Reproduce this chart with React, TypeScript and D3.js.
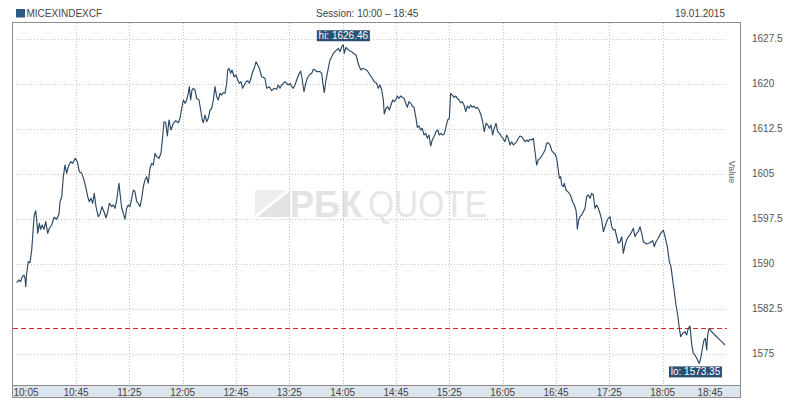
import React from "react";
import * as d3 from "d3";

// minutes after 10:00
const times = [
  0.5,2.25,3.5,4.7,6,6.75,7.3,8,9.2,10.5,11.8,13,13.7,14.8,15.5,16.3,17.5,18.5,19.7,21,22.3,23.8,25,26.8,28.5,30.5,32.25,33,34.3,35.5,36.75,38,39.2,41,42.5,44.5,46,47.5,49.3,51,52.5,53.8,55,56.25,57.5,58.7,60,61.7,63,64.5,66,67.5,68.8,70,71.8,73,74.25,75.5,77.25,78,79.3,80.5,81.75,83,84.2,85.5,86.8,88,89.25,90.5,91.7,93,94.3,95.5,96.75,98,99.2,100.5,101.8,103,104.25,105.5,107.25,108.75,
  110,111,112.3,113.5,114.75,116.25,118,119.8,121.7,123,124.3,125.5,126.75,128,129.2,130,131,132,133,134.25,135.5,137.25,138.5,139.7,140.5,141.75,143,144.2,145.5,146.8,148,149.25,150.5,151.7,153,154.25,155.5,156.75,158,158.8,159.75,161,162,163.5,165,166.3,167.5,168.75,170,171.2,172.5,173.8,175,176.25,177.5,178.7,180,181.3,182.5,
  184.3,186.75,188,190,191.8,193.5,195.5,196.7,198,199.3,200.5,201.75,203,204.2,205.5,206.8,208,209.25,210.5,212.25,213.5,214.7,216,217.3,218.5,220,221.8,223,224.25,225.5,228,229.3,230,231.2,232.5,234.2,235.5,236.8,238,239.25,240.5,241.7,243,244.3,245.5,246.2,247.5,248.8,250,251.8,253,255,256.3,257.5,258.75,260,261.75,263.5,265.5,267.2,268.7,270.5,271.7,273,274.3,275.5,276.2,277.5,278.8,280,281.25,282.5,283.7,285,286,287.25,288.5,289.7,291,292.3,293.5,294.75,296,297.2,298.5,299.8,301,302.25,303.5,304.7,306,307.3,308.5,309.75,311,312.2,313.5,315,316.3,317.5,318.75,320,321.2,322.5,323.8,325,326,327.2,328.5,329.8,331,332.25,333.5,334.7,336,337.3,338.5,339.75,341,342.2,343.5,344.8,346,347.25,
  348.75,350,351.2,352.5,353.8,355,356.25,357.5,358.7,360,361.3,362.5,364.3,365.5,366.75,368,369.2,370.5,371.8,373,374.25,375.5,376.7,378,379.3,380.5,381.75,383,384.2,385.5,386.8,388,389.25,390.5,391.7,393,394.3,395.5,396.75,398,399.2,400.5,401.8,403,404.25,405.5,406.7,407.5,408.5,409.3,410.5,411.2,412.5,413.8,415,416.25,417.5,418.7,420,420.5,421,422,423,424.3,425.5,426.75,428,429.2,430.5,431.8,433,434.25,435.5,436.7,438,439.3,440.5,441.75,443,444.2,445.5,446.8,448,449.25,450.5,451.7,453,454.3,455.5,456.75,458,459.2,460.5,461.8,463,464.25,465.5,466.7,
  468,469.3,470.5,473,475.5,477.5,478.7,480,481.7,483.5,485.5,486.75,488.5,490,491.25,492.5,493.7,495,496.3,497.5,498.5,500,501.75,503,504.2,505.5,506.8,508,509.25,510.5,512.5,513.75,515,516,517,518,518.75,519.75,521.75,524.25,526.7,529.3,531.75
];

const values = [
  1586.8,1587.25,1586.97,1587.8,1588.08,1587.53,1586.13,1588.37,1590.3,1590.13,1592.25,1596.13,1598.08,1598.8,1597.25,1595.03,1596.7,1595.7,1596.42,1595.7,1596.97,1595.03,1595.87,1596.42,1597.7,1597.37,1598.25,1600.3,1601.13,1604.47,1606.42,1605.03,1606.13,1606.97,1606.7,1607.53,1606.97,1605.3,1605.03,1603.92,1602.53,1601.13,1600.3,1600.87,1600.03,1601.7,1599.47,1597.8,1598.25,1599.47,1598.63,1597.63,1598.63,1600.03,1599.47,1599.75,1599.2,1600.58,1603.37,1601.7,1599.2,1598.37,1597.37,1599.2,1599.75,1599.47,1600.87,1602.25,1601.97,1600.3,1600.03,1599.47,1600.87,1602.8,1603.92,1604.47,1603.37,1605.87,1606.7,1606.42,1608.37,1607.8,1607.53,1608.37,
  1611.13,1613.63,1613.47,1611.25,1613.92,1612.25,1613.37,1613.8,1613.47,1614.2,1615.87,1617.25,1616.7,1617.25,1618.37,1619.47,1617.25,1618.92,1619.2,1618.92,1617.53,1617.25,1615.58,1613.92,1613.47,1614.75,1613.63,1614.2,1615.58,1615.87,1617.25,1619.47,1617.8,1617.25,1618.37,1618.08,1618.47,1618.37,1620.03,1622.25,1622.53,1621.7,1622.25,1621.13,1621.42,1620.58,1620.03,1620.3,1619.2,1619.75,1620.3,1620.47,1620.03,1620.87,1621.97,1622.53,1623.63,1623.08,1622.53,
  1621.13,1620.87,1619.2,1619.47,1618.8,1619.2,1619.03,1619.75,1619.2,1619.75,1620.03,1620.3,1620.03,1619.75,1620.03,1619.47,1619.2,1619.75,1620.58,1621.58,1622.08,1620.58,1618.63,1620.03,1620.87,1621.42,1621.7,1622.37,1622.25,1621.97,1621.97,1621.7,1620.3,1618.47,1620.58,1622.53,1623.92,1624.47,1625.03,1625.3,1625.58,1625.87,1625.3,1626.13,1626.46,1625.03,1626.03,1625.7,1625.47,1625.3,1625.03,1624.75,1623.63,1622.8,1622.25,1622.53,1622.37,1622.13,1621.42,1620.87,1620.3,1620.03,1619.2,1619.75,1618.92,1617.25,1614.92,1615.87,1616.13,1615.58,1616.42,1617.25,1616.97,1617.37,1617.92,1617.53,1617.92,1617.7,1617.53,1616.7,1616.03,1616.97,1616.7,1616.25,1616.03,1614.47,1612.7,1612.92,1612.25,1612.53,1611.42,1611.7,1610.87,1611.42,1609.58,1610.58,1611.13,1611.97,1612.25,1611.42,1611.7,1611.42,1611.58,1612.8,1613.92,1614.2,1618.37,1618.08,1617.7,1617.92,1617.53,1617.25,1616.8,1616.97,1616.42,1615.3,1616.25,1615.87,1616.42,1616.03,1616.25,1615.87,1616.03,1615.58,
  1614.75,1613.63,1611.97,1613.37,1613.08,1612.53,1613.08,1611.42,1612.53,1613.37,1611.97,1611.7,1611.13,1610.7,1610.3,1611.42,1610.87,1609.75,1610.3,1609.75,1610.03,1610.3,1610.87,1611.25,1611.13,1610.7,1610.3,1610.58,1610.3,1610.7,1610.58,1610.87,1608.63,1606.42,1607.25,1607.53,1607.92,1608.37,1608.92,1610.03,1610.13,1609.75,1608.8,1608.47,1608.25,1607.53,1605.58,1604.2,1604.47,1603.08,1602.8,1603.37,1602.25,1601.97,1601.7,1601.13,1600.3,1599.75,1598.92,1597.8,1595.75,1597.25,1597.8,1598.08,1598.63,1599.2,1601.13,1601.42,1600.87,1601.7,1601.42,1599.2,1599.75,1599.2,1598.37,1597.25,1595.3,1596.13,1596.97,1597.53,1597.8,1596.13,1595.58,1595.7,1594.47,1593.37,1593.63,1594.47,1591.7,1593.08,1593.92,1594.47,1594.75,1595.3,1595.87,1594.47,1595.03,1595.3,
  1596.13,1595.03,1593.63,1593.25,1593.47,1593.8,1592.8,1593.63,1594.2,1595.03,1595.58,1594.47,1592.8,1590.3,1589.47,1587.25,1585.3,1583.08,1581.42,1579.2,1577.8,1578.37,1578.63,1578.08,1579.2,1579.58,1576.42,1575.03,1574.75,1574.2,1573.35,1574.47,1576.13,1577.25,1577.53,1575.58,1578.08,1579.2,1578.63,1578.08,1577.53,1576.97,1576.42
];

const xTickLabels = ["10:05","10:45","11:25","12:05","12:45","13:25","14:05","14:45","15:25","16:05","16:45","17:25","18:05","18:45"];
const yTicks = [1575, 1582.5, 1590, 1597.5, 1605, 1612.5, 1620, 1627.5];
const prevClose = 1579.2;
const seriesName = "MICEXINDEXCF";
const sessionText = "Session: 10:00 \u2013 18:45";
const dateText = "19.01.2015";
const axisTitle = "Value";

const FONT = "'Liberation Sans', Arial, Helvetica, sans-serif";

const toMin = (s: string) => {
  const [h, m] = s.split(":").map(Number);
  return (h - 10) * 60 + m;
};

export default function App() {
  const W = 800, H = 401;
  const frame = { l: 12.5, t: 22.5, r: 740.5, b: 397.5 };
  const bandTop = 385.5;

  const x = d3.scaleLinear().domain([0, 525]).range([16, 716]);
  const y = d3.scaleLinear().domain([1575, 1627.5]).range([353.5, 38.5]);

  const data = times.map((t, i) => ({ t, v: values[i] }));
  const line = d3.line<{ t: number; v: number }>().x(d => x(d.t)).y(d => y(d.v));

  const hiIdx = d3.maxIndex(values);
  const loIdx = d3.minIndex(values);
  const hx = x(times[hiIdx]), hy = y(values[hiIdx]);
  const lx = x(times[loIdx]), ly = y(values[loIdx]);
  const boxW = 53, boxH = 11;
  const hiBoxX = Math.min(hx - boxW / 2, 722 - boxW);
  const loBoxX = Math.min(lx - boxW / 2, 722 - boxW);

  const gridX0 = 16, gridX1 = 726;

  return (
    <svg width={W} height={H} style={{ position: "absolute", left: 0, top: 0, background: "#fff" }} fontFamily={FONT}>
      <rect x={0} y={0} width={W} height={H} fill="#fff" />
      {/* header */}
      <rect x={16} y={9} width={9} height={8.5} fill="#2f5b86" />
      <text x={26.5} y={17} fontSize={10} fill="#444">{seriesName}</text>
      <text x={316} y={17} fontSize={10} fill="#444">{sessionText}</text>
      <text x={725} y={17} fontSize={10} fill="#444" textAnchor="end">{dateText}</text>

      {/* watermark */}
      <g>
        <polygon points="255,190 287,190 255,215" fill="#eeeeee" />
        <polygon points="290,191 290,217 257,217" fill="#e3e3e3" />
        <text x={290} y={217} fontSize={36} fontWeight="bold" fill="#e3e3e3">РБК</text>
        <text x={368} y={217} fontSize={36} fill="#e6e6e6" textLength={119} lengthAdjust="spacingAndGlyphs">QUOTE</text>
      </g>

      {/* grid */}
      {yTicks.map(v => (
        <line key={"gy" + v} x1={gridX0} x2={gridX1} y1={Math.round(y(v)) + 0.5} y2={Math.round(y(v)) + 0.5}
          stroke="#c4c4c4" strokeDasharray="1,2" />
      ))}
      {xTickLabels.slice(1, -1).map(s => (
        <line key={"gx" + s} x1={Math.round(x(toMin(s))) + 0.5} x2={Math.round(x(toMin(s))) + 0.5} y1={23} y2={bandTop}
          stroke="#c4c4c4" strokeDasharray="1,2" />
      ))}

      {/* previous close */}
      <line x1={13} x2={727} y1={Math.round(y(prevClose)) + 0.5} y2={Math.round(y(prevClose)) + 0.5}
        stroke="#d42a2a" strokeDasharray="5,3" strokeWidth={1} />

      {/* series */}
      <path d={line(data) || ""} fill="none" stroke="#2b4864" strokeWidth={1.15} strokeLinejoin="round" />

      {/* hi / lo */}
      <rect x={hiBoxX} y={hy - 14.5} width={boxW} height={boxH} fill="#2b5075" />
      <text x={hiBoxX + boxW / 2} y={hy - 5.8} fontSize={10} fill="#fff" textAnchor="middle">{"hi: " + values[hiIdx].toFixed(2)}</text>
      <rect x={loBoxX} y={ly + 3} width={boxW} height={boxH} fill="#2b5075" />
      <text x={loBoxX + boxW / 2} y={ly + 11.8} fontSize={10} fill="#fff" textAnchor="middle">{"lo: " + values[loIdx].toFixed(2)}</text>

      {/* bottom axis band */}
      <rect x={frame.l} y={bandTop} width={frame.r - frame.l} height={frame.b - bandTop} fill="#dce5ed" />
      <line x1={frame.l} x2={frame.r} y1={bandTop} y2={bandTop} stroke="#8c8c8c" />
      {xTickLabels.map((s, i) => {
        const px = x(toMin(s));
        const cx = i === 0 ? Math.max(px, 26) : i === xTickLabels.length - 1 ? Math.min(px, 710) : px;
        return (
          <text key={"xl" + s} x={cx} y={395.5} fontSize={10} fill="#444" textAnchor="middle">{s}</text>
        );
      })}

      {/* frame */}
      <rect x={frame.l} y={frame.t} width={frame.r - frame.l} height={frame.b - frame.t} fill="none" stroke="#8c8c8c" />

      {/* right axis */}
      {yTicks.map(v => (
        <text key={"yl" + v} x={752} y={y(v) + 3.5} fontSize={10} fill="#555">{String(v)}</text>
      ))}
      <text transform={`translate(729,172) rotate(90)`} fontSize={9} fill="#666" textAnchor="middle">{axisTitle}</text>
    </svg>
  );
}
